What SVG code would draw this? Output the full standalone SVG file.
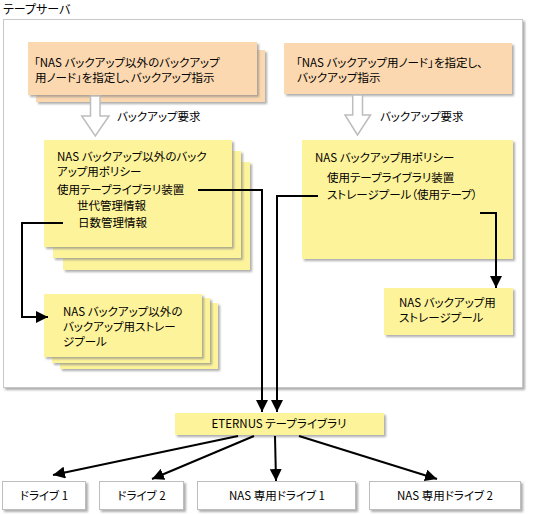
<svg xmlns="http://www.w3.org/2000/svg" width="534" height="514" viewBox="0 0 534 514">
<style>
text{font-family:"Noto Sans CJK JP","Noto Sans",sans-serif;font-size:11.5px;fill:#000;font-feature-settings:"palt"}
.t{font-size:12px}
.org{fill:#fbd8b0}
.yel{fill:#fdf39a}
.wht{fill:#fff;stroke:#bdbdbd;stroke-width:1}
.hol{fill:#fff;stroke:#bdbdbd;stroke-width:1.5}
.con{fill:none;stroke:#000;stroke-width:2}
.c{text-anchor:middle}
</style>
<defs>
<filter id="sh" x="-10%" y="-10%" width="130%" height="140%">
<feDropShadow dx="2" dy="2" stdDeviation="0.8" flood-color="#8a8a8a" flood-opacity="0.7"/>
</filter>
<marker id="ar" markerUnits="userSpaceOnUse" markerWidth="12" markerHeight="12" viewBox="0 0 10 10" refX="10" refY="5" orient="auto">
<path d="M0,0 L10,5 L0,10 z" fill="#000"/>
</marker>
</defs>
<text class="t" x="3" y="14">テープサーバ</text>
<g id="server"><rect x="3.5" y="19.5" width="519" height="368" fill="#fff" stroke="#c8c8c8" filter="url(#sh)"/></g>

<g id="req-left">
<rect class="org" x="36" y="50" width="229" height="52" filter="url(#sh)"/>
<rect class="org" x="28" y="42" width="229" height="53" filter="url(#sh)"/>
<text x="34" y="67">「NAS バックアップ以外のバックアップ</text>
<text x="35" y="82">用ノード」を指定し、バックアップ指示</text>
</g>
<g id="req-right">
<rect class="org" x="284" y="43" width="228" height="51" filter="url(#sh)"/>
<text x="296" y="67">「NAS バックアップ用ノード」を指定し、</text>
<text x="297" y="82">バックアップ指示</text>
</g>
<g id="hollow-left">
<path class="hol" d="M90.5,96 H100 V116 H109 L95.3,136 L81.7,116 H90.5 Z"/>
<text x="117" y="121">バックアップ要求</text>
</g>
<g id="hollow-right">
<path class="hol" d="M352.7,95 H362.5 V115 H370.5 L357.5,135 L345,115 H352.7 Z"/>
<text x="380" y="121">バックアップ要求</text>
</g>

<g id="policy-left">
<rect class="yel" x="63" y="162" width="187" height="108" filter="url(#sh)"/>
<rect class="yel" x="53" y="151" width="188" height="107" filter="url(#sh)"/>
<rect class="yel" x="44" y="140" width="188" height="107" filter="url(#sh)"/>
<text x="57" y="161">NAS バックアップ以外のバック</text>
<text x="57" y="176">アップ用ポリシー</text>
<text x="57" y="194">使用テープライブラリ装置</text>
<text x="77" y="210">世代管理情報</text>
<text x="78" y="227">日数管理情報</text>
</g>
<g id="policy-right">
<rect class="yel" x="302" y="140" width="211" height="119" filter="url(#sh)"/>
<text x="315" y="162">NAS バックアップ用ポリシー</text>
<text x="327" y="182">使用テープライブラリ装置</text>
<text x="327" y="199">ストレージプール（使用テープ）</text>
</g>
<g id="pool-right">
<rect class="yel" x="384" y="288" width="129" height="47" filter="url(#sh)"/>
<text x="399" y="307">NAS バックアップ用</text>
<text x="399" y="322">ストレージプール</text>
</g>
<g id="pool-left">
<rect class="yel" x="60" y="303" width="158" height="66" filter="url(#sh)"/>
<rect class="yel" x="52" y="298" width="158" height="65" filter="url(#sh)"/>
<rect class="yel" x="44" y="294" width="158" height="63" filter="url(#sh)"/>
<text x="63" y="316">NAS バックアップ以外の</text>
<text x="63" y="331">バックアップ用ストレー</text>
<text x="63" y="346">ジプール</text>
</g>

<g id="eternus">
<rect class="yel" x="175" y="413" width="209" height="22" filter="url(#sh)"/>
<text class="c" x="279" y="428">ETERNUS テープライブラリ</text>
</g>
<g id="drive1"><rect class="wht" x="2.5" y="481.5" width="83" height="28" filter="url(#sh)"/><text class="c" x="44" y="500">ドライブ 1</text></g>
<g id="drive2"><rect class="wht" x="99.5" y="481.5" width="84" height="28" filter="url(#sh)"/><text class="c" x="141.5" y="500">ドライブ 2</text></g>
<g id="nasdrive1"><rect class="wht" x="197.5" y="481.5" width="158" height="28" filter="url(#sh)"/><text class="c" x="277" y="500">NAS 専用ドライブ 1</text></g>
<g id="nasdrive2"><rect class="wht" x="369.5" y="481.5" width="151" height="28" filter="url(#sh)"/><text class="c" x="445" y="500">NAS 専用ドライブ 2</text></g>

<g id="connectors">
<path class="con" d="M198,190 H262 V412" marker-end="url(#ar)"/>
<path class="con" d="M318,196 H277 V412" marker-end="url(#ar)"/>
<path class="con" d="M63,223 H22 V317 H48" marker-end="url(#ar)"/>
<path class="con" d="M480,213 H496 V288" marker-end="url(#ar)"/>
<path class="con" d="M238,436 L53,475" marker-end="url(#ar)"/>
<path class="con" d="M254,436 L152,479" marker-end="url(#ar)"/>
<path class="con" d="M275,436 L276,481" marker-end="url(#ar)"/>
<path class="con" d="M299,436 L437,479" marker-end="url(#ar)"/>
</g>
</svg>
